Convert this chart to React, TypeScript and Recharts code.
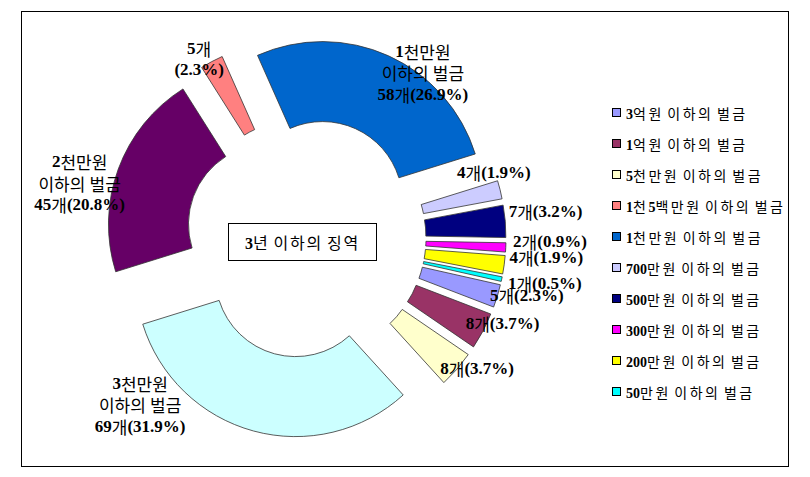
import React from "react";
import { PieChart, Pie, Cell, Sector, Legend } from "recharts";

// data, in series order (Excel draws clockwise from the 3억원 slice)
const categories = [
  "3억원 이하의 벌금",
  "1억원 이하의 벌금",
  "5천만원 이하의 벌금",
  "3천만원 이하의 벌금",
  "2천만원 이하의 벌금",
  "1천5백만원 이하의 벌금",
  "1천만원 이하의 벌금",
  "700만원 이하의 벌금",
  "500만원 이하의 벌금",
  "300만원 이하의 벌금",
  "200만원 이하의 벌금",
  "50만원 이하의 벌금",
];
const counts = [5, 8, 8, 69, 45, 5, 58, 4, 7, 2, 4, 1];
// the legend only lists these
const legendItems = [
  "3억원 이하의 벌금",
  "1억원 이하의 벌금",
  "5천만원 이하의 벌금",
  "1천5백만원 이하의 벌금",
  "1천만원 이하의 벌금",
  "700만원 이하의 벌금",
  "500만원 이하의 벌금",
  "300만원 이하의 벌금",
  "200만원 이하의 벌금",
  "50만원 이하의 벌금",
];
const centerTitle = "3년 이하의 징역";
const unit = "개";

const COLORS = [
  "#9999FF", "#993366", "#FFFFCC", "#CCFFFF", "#660066", "#FF8080",
  "#0066CC", "#CCCCFF", "#000080", "#FF00FF", "#FFFF00", "#00FFFF",
];

// label placement: mode, radius from pie centre, angle nudge from slice middle (deg, clockwise)
const LABEL_MODE = ["inline", "inline", "inline", "full", "full", "split", "full", "inline", "inline", "inline", "inline", "inline"];
const LABEL_R = [228, 214, 215, 235, 233, 209, 203, 199, 241, 244, 241, 243];
const LABEL_NUDGE = [-2.4, -4.4, -3.8, 29.7, -6.5, -2.6, 10.8, -5.3, -1.6, -2, -3.2, -1.2];

const CX = 306;
const CY = 238;
const EXPLODE = 40;
const START = -12.7; // recharts degrees (ccw from 3 o'clock)
const RAD = Math.PI / 180;

const SERIF = "'Liberation Serif', 'Times New Roman', serif";
const KOREAN = "'Noto Sans CJK KR', 'Noto Sans', sans-serif";

const data = categories.map((name, i) => ({ name, value: counts[i] }));
const total = counts.reduce((a, b) => a + b, 0);

const isHangul = (s: string) => /[\u3131-\uD7A3]/.test(s);

// digits bold serif, hangul regular
function splitRuns(s: string) {
  return s.match(/[\u3131-\uD7A3]+|[^\u3131-\uD7A3]+/g) || [];
}

function SvgLine({ x, y, text }: { x: number; y: number; text: string }) {
  return (
    <text x={x} y={y} textAnchor="middle" dominantBaseline="central" fontSize={17} fill="#000">
      {splitRuns(text).map((r, k) =>
        isHangul(r) ? (
          <tspan key={k} fontFamily={KOREAN} fontWeight={400}>{r}</tspan>
        ) : (
          <tspan key={k} fontFamily={SERIF} fontWeight={700}>{r}</tspan>
        )
      )}
    </text>
  );
}

function HtmlRuns({ text, spacing }: { text: string; spacing: number }) {
  return (
    <span style={{ whiteSpace: "pre" }}>
      {splitRuns(text).map((r, k) =>
        isHangul(r) ? (
          <span key={k} style={{ fontFamily: KOREAN, fontWeight: 400, letterSpacing: spacing }}>{r}</span>
        ) : (
          <span key={k} style={{ fontFamily: SERIF, fontWeight: 700 }}>{r}</span>
        )
      )}
    </span>
  );
}

function ExplodedSlice(props: any) {
  const { cx, cy, midAngle, ...rest } = props;
  const dx = EXPLODE * Math.cos(-midAngle * RAD);
  const dy = EXPLODE * Math.sin(-midAngle * RAD);
  return <Sector {...rest} cx={cx + dx} cy={cy + dy} />;
}

function renderLabel(props: any) {
  const { cx, cy, midAngle, index, value } = props;
  const pct = ((props.percent ?? value / total) * 100).toFixed(1);
  const theta = (90 - midAngle + LABEL_NUDGE[index]) * RAD; // clockwise from top
  const r = LABEL_R[index];
  const x = cx + r * Math.sin(theta);
  const y = cy - r * Math.cos(theta);
  const mode = LABEL_MODE[index];
  const lh = 21.5;
  if (mode === "full") {
    const [head, ...tail] = categories[index].split(" ");
    return (
      <g key={`lbl-${index}`}>
        <SvgLine x={x} y={y - lh} text={head} />
        <SvgLine x={x} y={y} text={tail.join(" ")} />
        <SvgLine x={x} y={y + lh} text={`${value}${unit}(${pct}%)`} />
      </g>
    );
  }
  if (mode === "split") {
    return (
      <g key={`lbl-${index}`}>
        <SvgLine x={x} y={y - lh / 2} text={`${value}${unit}`} />
        <SvgLine x={x} y={y + lh / 2} text={`(${pct}%)`} />
      </g>
    );
  }
  return <SvgLine key={`lbl-${index}`} x={x} y={y} text={`${value}${unit}(${pct}%)`} />;
}

function LegendList() {
  return (
    <div>
      {legendItems.map((name) => {
        const i = categories.indexOf(name);
        return (
          <div key={name} style={{ height: 31, display: "flex", alignItems: "center" }}>
            <div
              style={{
                width: 9,
                height: 9,
                flex: "none",
                boxSizing: "border-box",
                border: "1px solid #000",
                background: COLORS[i],
                marginRight: 5,
              }}
            />
            <span style={{ fontSize: 14, color: "#000", whiteSpace: "nowrap" }}>
              <HtmlRuns text={name} spacing={2.5} />
            </span>
          </div>
        );
      })}
    </div>
  );
}

export default function App() {
  return (
    <div style={{ position: "absolute", left: 0, top: 0, width: 810, height: 477, background: "#fff" }}>
      <div
        style={{
          position: "absolute",
          left: 21,
          top: 11,
          width: 768,
          height: 456,
          boxSizing: "border-box",
          border: "1.5px solid #000",
        }}
      />
      <PieChart width={810} height={477} margin={{ top: 0, right: 0, bottom: 0, left: 0 }} style={{ position: "absolute", left: 0, top: 0 }}>
        <Pie
          data={data}
          dataKey="value"
          nameKey="name"
          cx={CX}
          cy={CY}
          innerRadius={80}
          outerRadius={160}
          startAngle={START}
          endAngle={START - 360}
          stroke="#333"
          strokeWidth={0.8}
          isAnimationActive={false}
          shape={ExplodedSlice}
          inactiveShape={ExplodedSlice}
          activeShape={ExplodedSlice}
          label={renderLabel}
          labelLine={false}
        >
          {data.map((d, i) => (
            <Cell key={d.name} fill={COLORS[i]} />
          ))}
        </Pie>
        <Legend
          layout="vertical"
          align="right"
          verticalAlign="top"
          wrapperStyle={{ left: 612, top: 97, width: 190 }}
          content={() => <LegendList />}
        />
      </PieChart>
      <div
        style={{
          position: "absolute",
          left: 228,
          top: 223,
          width: 149,
          height: 38,
          boxSizing: "border-box",
          border: "1px solid #000",
          background: "#fff",
          display: "flex",
          alignItems: "center",
          justifyContent: "center",
          fontSize: 16,
          color: "#000",
        }}
      >
        <HtmlRuns text={centerTitle} spacing={1.8} />
      </div>
    </div>
  );
}
